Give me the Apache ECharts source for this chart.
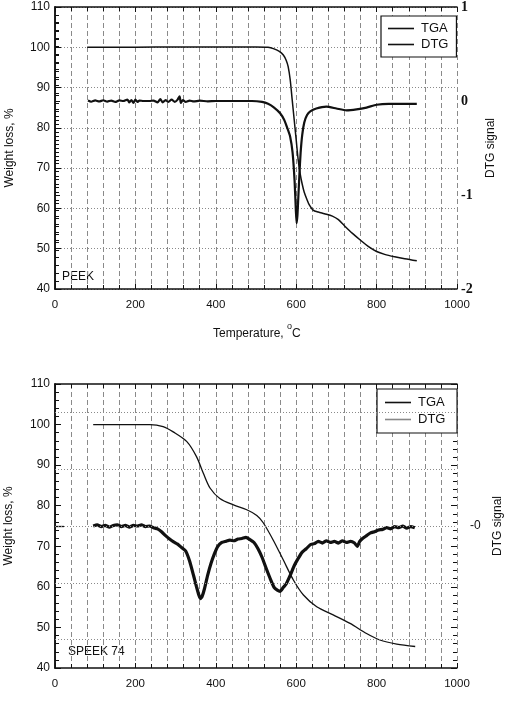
<!DOCTYPE html>
<html>
<head>
<meta charset="utf-8">
<script src="https://cdn.jsdelivr.net/npm/echarts@6/dist/echarts.min.js"></script>
<style>
html,body{margin:0;padding:0;background:#fff;}
#c{width:507px;height:703px;}
</style>
</head>
<body>
<div id="c"></div>
<script>
// ---- Top panel (PEEK) ----
const tgaTopT = [80, 200, 300, 400, 500, 530, 545, 558, 568, 575, 580, 585, 590, 595, 600, 605, 610, 615, 620, 626, 633, 642, 655, 670, 690, 705, 720, 740, 760, 780, 800, 820, 845, 870, 900];
const tgaTopW = [100, 100, 100.1, 100.1, 100.1, 100, 99.6, 99, 98.1, 96.8, 95.2, 92, 87, 82, 77, 72, 68.5, 66, 64, 62.4, 60.8, 59.6, 59.1, 58.7, 58.1, 57.2, 55.7, 53.8, 52.1, 50.5, 49.3, 48.6, 48, 47.5, 47];
const dtgTopT = [82, 90, 100, 110, 120, 130, 140, 150, 160, 170, 180, 185, 190, 195, 200, 205, 210, 220, 235, 245, 255, 262, 268, 275, 282, 290, 298, 305, 310, 313, 318, 325, 335, 345, 360, 380, 400, 430, 460, 490, 515, 530, 545, 560, 570, 578, 585, 591, 596, 599, 601, 603, 605, 608, 611, 615, 620, 627, 635, 650, 675, 700, 725, 750, 775, 800, 830, 860, 900];
const dtgTopV = [0.005, -0.008, 0.006, -0.005, 0.008, -0.006, 0.005, -0.01, 0.006, 0.0, 0.015, -0.015, 0.01, -0.02, 0.015, -0.01, 0.005, 0.0, 0.0, 0.005, -0.015, 0.02, -0.015, 0.01, -0.01, 0.015, -0.01, 0.015, 0.05, -0.02, 0.01, -0.01, 0.005, -0.005, 0.003, -0.003, 0.00, 0.00, 0.00, 0.00, -0.01, -0.03, -0.07, -0.13, -0.20, -0.29, -0.38, -0.55, -0.85, -1.15, -1.30, -1.22, -1.05, -0.78, -0.55, -0.36, -0.23, -0.15, -0.11, -0.08, -0.06, -0.08, -0.10, -0.09, -0.07, -0.04, -0.03, -0.03, -0.03];

// ---- Bottom panel (SPEEK 74) ----
const tgaBotT = [95, 150, 236, 269, 294, 328, 352, 369, 386, 410, 444, 477, 502, 518, 543, 568, 593, 618, 651, 692, 734, 775, 808, 850, 896];
const tgaBotW = [100, 100, 100, 99.5, 98.2, 95.8, 92.1, 88, 84.3, 81.8, 80.2, 79, 77.6, 75.8, 71.5, 66.6, 61.7, 58, 55.1, 53.1, 51, 48.5, 46.9, 45.9, 45.3];
const dtgBotT = [95, 105, 115, 125, 135, 145, 155, 165, 175, 185, 195, 205, 215, 225, 235, 245, 255, 265, 275, 285, 295, 305, 315, 325, 335, 345, 352, 358, 362, 366, 372, 380, 388, 396, 405, 415, 425, 435, 445, 455, 465, 475, 485, 495, 505, 515, 525, 535, 545, 553, 560, 568, 575, 585, 595, 605, 615, 625, 635, 645, 655, 665, 675, 685, 695, 705, 715, 725, 735, 745, 752, 758, 765, 775, 785, 795, 805, 815, 825, 835, 845, 855, 865, 875, 885, 895];
const dtgBotV = [0.00, 0.02, -0.01, 0.01, -0.02, 0.01, 0.02, -0.01, 0.01, -0.02, 0.01, 0.00, 0.02, -0.01, 0.00, -0.03, -0.05, -0.10, -0.17, -0.23, -0.28, -0.32, -0.38, -0.44, -0.62, -0.88, -1.07, -1.22, -1.28, -1.24, -1.10, -0.86, -0.66, -0.50, -0.36, -0.29, -0.27, -0.25, -0.26, -0.23, -0.22, -0.20, -0.24, -0.29, -0.40, -0.55, -0.74, -0.92, -1.08, -1.13, -1.15, -1.08, -1.02, -0.87, -0.70, -0.57, -0.46, -0.40, -0.33, -0.31, -0.27, -0.30, -0.26, -0.29, -0.27, -0.30, -0.26, -0.29, -0.27, -0.30, -0.36, -0.27, -0.22, -0.17, -0.12, -0.10, -0.07, -0.06, -0.03, -0.05, -0.01, -0.03, 0.00, -0.04, -0.01, -0.03];

// ---- Axis ticks ----
const xTickValues = [0, 200, 400, 600, 800, 1000];
const botDtgGrid = [-2, -1, 0, 1, 2];
const botDtgLabelValues = [0];

const pair = (xs, ys) => xs.map((x, i) => [x, ys[i]]);

const FONT = 'Liberation Sans, Arial, Helvetica, sans-serif';
const INK = '#111';
const GRIDC = '#8a8a8a';

function xAx(gi, pos) {
  const bottom = pos === 'bottom';
  return {
    type: 'value', gridIndex: gi, position: pos,
    min: xTickValues[0], max: xTickValues[xTickValues.length - 1], interval: 200,
    axisLine: { show: true, onZero: false, lineStyle: { color: INK, width: 1.5 } },
    axisTick: { show: true, inside: true, length: 5, lineStyle: { color: INK, width: 1 } },
    minorTick: { show: true, splitNumber: 5, length: 4, lineStyle: { color: INK, width: 1 } },
    axisLabel: { show: bottom, color: INK, fontSize: 11.5, fontFamily: FONT, margin: 10, formatter: v => String(v) },
    splitLine: { show: bottom, lineStyle: { color: GRIDC, width: 1, type: [5, 3] } },
    minorSplitLine: { show: bottom, lineStyle: { color: GRIDC, width: 1, type: [5, 3] } }
  };
}

const option = {
  animation: false,
  backgroundColor: '#fff',
  textStyle: { fontFamily: FONT },
  grid: [
    { left: 55, right: 50, top: 7, height: 282, outerBoundsMode: 'none', containLabel: false },
    { left: 55, right: 50, top: 384, height: 284, outerBoundsMode: 'none', containLabel: false }
  ],
  xAxis: [xAx(0, 'bottom'), xAx(0, 'top'), xAx(1, 'bottom'), xAx(1, 'top')],
  yAxis: [
    { // 0 top left
      type: 'value', gridIndex: 0, position: 'left', min: 40, max: 110, interval: 10,
      name: 'Weight loss, %', nameLocation: 'middle', nameGap: 39,
      nameTextStyle: { color: INK, fontSize: 12, fontFamily: FONT },
      axisLine: { show: true, lineStyle: { color: INK, width: 1.5 } },
      axisTick: { show: true, inside: true, length: 6, lineStyle: { color: INK } },
      minorTick: { show: true, splitNumber: 5, length: 4, lineStyle: { color: INK } },
      axisLabel: { color: INK, fontSize: 12, fontFamily: FONT, margin: 5 },
      splitLine: { show: true, lineStyle: { color: GRIDC, width: 1, type: [1, 2] } }
    },
    { // 1 top right (DTG)
      type: 'value', gridIndex: 0, position: 'right', min: -2, max: 1, interval: 1,
      name: 'DTG signal', nameLocation: 'middle', nameGap: 28,
      nameTextStyle: { color: INK, fontSize: 12, fontFamily: FONT },
      axisLine: { show: true, lineStyle: { color: INK, width: 1.5 } },
      axisTick: { show: true, inside: false, length: 5, lineStyle: { color: INK } },
      minorTick: { show: true, splitNumber: 12, length: 4, lineStyle: { color: INK } },
      axisLabel: { color: INK, fontSize: 14, fontWeight: 'bold', fontFamily: 'Liberation Serif, Times New Roman, serif', margin: 4 },
      splitLine: { show: false }
    },
    { // 2 bottom left
      type: 'value', gridIndex: 1, position: 'left', min: 40, max: 110, interval: 10,
      name: 'Weight loss, %', nameLocation: 'middle', nameGap: 40,
      nameTextStyle: { color: INK, fontSize: 12, fontFamily: FONT },
      axisLine: { show: true, lineStyle: { color: INK, width: 1.5 } },
      axisTick: { show: true, inside: true, length: 6, lineStyle: { color: INK } },
      minorTick: { show: true, splitNumber: 5, length: 4, lineStyle: { color: INK } },
      axisLabel: { color: INK, fontSize: 12, fontFamily: FONT, margin: 5 },
      splitLine: { show: false }
    },
    { // 3 bottom right (DTG)
      type: 'value', gridIndex: 1, position: 'right', min: -2.5, max: 2.5,
      name: 'DTG signal', nameLocation: 'middle', nameGap: 28,
      nameTextStyle: { color: INK, fontSize: 12, fontFamily: FONT },
      axisLine: { show: true, lineStyle: { color: INK, width: 1.5 } },
      axisTick: { show: true, inside: false, length: 9, customValues: botDtgLabelValues, lineStyle: { color: INK, width: 1.3 } },
      axisLabel: { color: INK, fontSize: 12, fontFamily: FONT, margin: 13, customValues: botDtgLabelValues,
        formatter: v => (Math.abs(v) < 1e-9 ? '-0' : '') },
      splitLine: { show: false }
    },
    { // 4 bottom right mirror ticks
      type: 'value', gridIndex: 1, position: 'right', min: 40, max: 110, interval: 10,
      axisLine: { show: false },
      axisTick: { show: true, inside: true, length: 6, lineStyle: { color: INK } },
      minorTick: { show: true, splitNumber: 5, length: 4, lineStyle: { color: INK } },
      axisLabel: { show: false },
      splitLine: { show: false }
    }
  ],
  legend: [
    {
      data: ['TGA', 'DTG'], orient: 'vertical', left: 381, top: 16,
      width: 71, height: 41,
      padding: [6, 8, 6, 7], itemGap: 3,
      borderColor: INK, borderWidth: 1.2, backgroundColor: '#fff',
      icon: 'rect', itemWidth: 26, itemHeight: 1.6,
      itemStyle: { color: INK },
      textStyle: { color: INK, fontSize: 13, fontFamily: FONT, padding: [0, 0, 0, 2] },
      selectedMode: false
    },
    {
      data: [{ name: 'TGA ', itemStyle: { color: INK } }, { name: 'DTG ', itemStyle: { color: '#888' } }],
      orient: 'vertical', left: 377, top: 389,
      width: 72, height: 43,
      padding: [7, 8, 7, 8], itemGap: 4,
      borderColor: INK, borderWidth: 1.2, backgroundColor: '#fff',
      icon: 'rect', itemWidth: 26, itemHeight: 1.6,
      textStyle: { color: INK, fontSize: 13, fontFamily: FONT, padding: [0, 0, 0, 2] },
      selectedMode: false
    }
  ],
  series: [
    { name: 'TGA', type: 'line', xAxisIndex: 0, yAxisIndex: 0, data: pair(tgaTopT, tgaTopW),
      showSymbol: false, symbol: 'none', smooth: 0.3, lineStyle: { color: INK, width: 1.5 }, itemStyle: { color: INK }, z: 3 },
    { name: 'DTG', type: 'line', xAxisIndex: 0, yAxisIndex: 1, data: pair(dtgTopT, dtgTopV),
      showSymbol: false, symbol: 'none', smooth: 0.2, lineStyle: { color: INK, width: 2.2 }, itemStyle: { color: INK }, z: 3 },
    { name: 'TGA ', type: 'line', xAxisIndex: 2, yAxisIndex: 2, data: pair(tgaBotT, tgaBotW),
      showSymbol: false, symbol: 'none', smooth: 0.3, lineStyle: { color: INK, width: 1.3 }, itemStyle: { color: INK }, z: 3 },
    { name: 'DTG ', type: 'line', xAxisIndex: 2, yAxisIndex: 3, data: pair(dtgBotT, dtgBotV),
      showSymbol: false, symbol: 'none', smooth: 0.15, lineStyle: { color: INK, width: 3.2 }, itemStyle: { color: '#888' }, z: 3,
      markLine: {
        silent: true, symbol: 'none', animation: false, label: { show: false },
        lineStyle: { color: GRIDC, width: 1, type: [1, 2] },
        data: botDtgGrid.map(v => ({ yAxis: v }))
      }
    }
  ],
  graphic: [
    { type: 'text', left: 62, top: 271, style: { text: 'PEEK', fill: INK, font: '12px ' + FONT } },
    { type: 'text', left: 68, top: 646, style: { text: 'SPEEK 74', fill: INK, font: '12px ' + FONT } },
    { type: 'text', left: 213, top: 322, style: {
        text: '{a|Temperature, }{b|o}{a|C}', fill: INK,
        rich: {
          a: { fontSize: 12, fontFamily: FONT, color: INK, lineHeight: 18, verticalAlign: 'bottom' },
          b: { fontSize: 9, fontFamily: FONT, color: INK, verticalAlign: 'top' }
        }
      } }
  ]
};

const chart = echarts.init(document.getElementById('c'), null, { renderer: 'canvas' });
chart.setOption(option);
</script>
</body>
</html>
